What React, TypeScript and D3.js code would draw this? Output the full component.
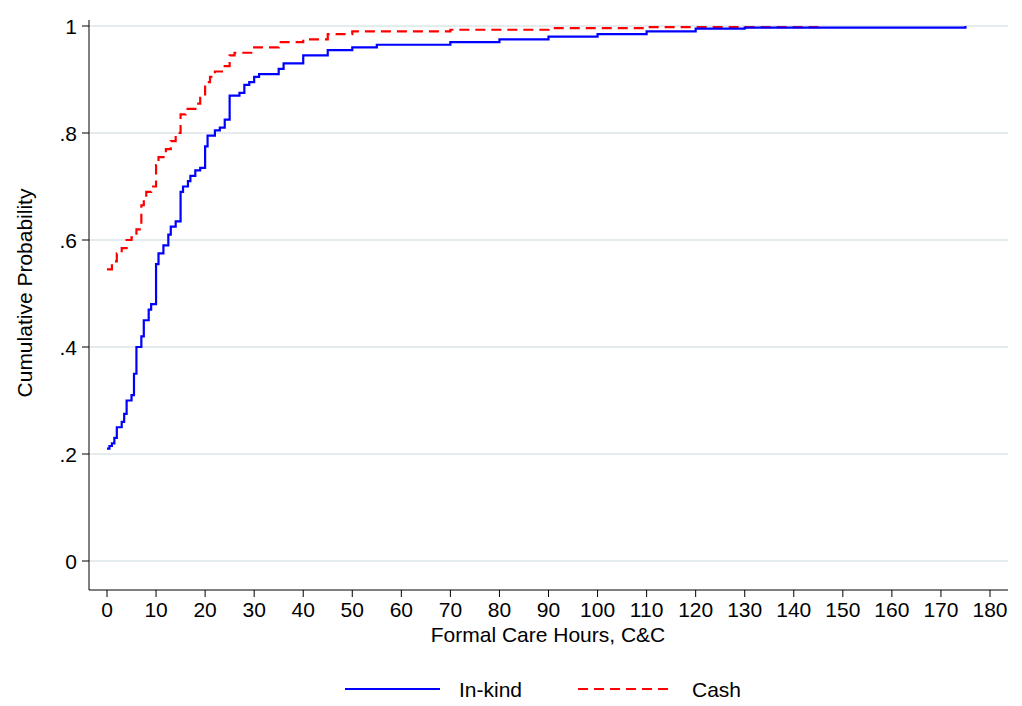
import React from "react";
import * as d3 from "d3";

const inkindH = [0,0.5,1,1.5,2,3,3.5,4,5,5.5,6,7,7.5,8.5,9,10,10.5,11.5,12.5,13,14,15,15.5,16.5,17,18,19,20,20.5,22,23,24,25,27,28,29,30,31,35,36,40,45,50,55,70,80,90,100,110,120,130,175];
const inkindP = [0.21,0.215,0.22,0.23,0.25,0.26,0.275,0.3,0.31,0.35,0.4,0.42,0.45,0.47,0.48,0.555,0.575,0.59,0.61,0.625,0.635,0.69,0.7,0.71,0.72,0.73,0.735,0.775,0.795,0.805,0.81,0.825,0.87,0.875,0.89,0.895,0.905,0.91,0.92,0.93,0.945,0.955,0.96,0.965,0.97,0.975,0.98,0.985,0.99,0.995,0.997,1.0];
const cashH = [0,1,2,3,4,5,6,7,7.5,8,9,10,10.5,12,13,14,15,16,18,19,20,21,22,24,25,26,30,35,40,45,50,70,90,110,145];
const cashP = [0.545,0.56,0.575,0.585,0.6,0.605,0.62,0.665,0.675,0.69,0.7,0.74,0.755,0.77,0.785,0.8,0.835,0.845,0.855,0.87,0.895,0.905,0.915,0.925,0.945,0.95,0.96,0.97,0.975,0.985,0.99,0.993,0.996,0.998,1.0];
const xTicks = d3.range(0, 181, 10);
const yTicks = [0, 0.2, 0.4, 0.6, 0.8, 1];
const yLabels = ["0", ".2", ".4", ".6", ".8", "1"];

export default function App() {
  const W = 1022, H = 706;
  const x = d3.scaleLinear().domain([0, 180]).range([107, 990]);
  const y = d3.scaleLinear().domain([0, 1]).range([561, 26]);
  const line = d3.line<[number, number]>().x(d => x(d[0])).y(d => y(d[1])).curve(d3.curveStepAfter);
  const blue = inkindH.map((h, i) => [h, inkindP[i]] as [number, number]);
  const red = cashH.map((h, i) => [h, cashP[i]] as [number, number]);
  const font = "'Liberation Sans', Arial, sans-serif";
  return (
    <svg width={W} height={H} style={{ position: "absolute", left: 0, top: 0, fontFamily: font }}>
      <rect width={W} height={H} fill="white" />
      {yTicks.map(t => (
        <line key={t} x1={89} x2={1008} y1={y(t)} y2={y(t)} stroke="#e4ecf0" strokeWidth={1.8} />
      ))}
      <line x1={89} x2={89} y1={20} y2={590} stroke="black" strokeWidth={1} />
      {yTicks.map((t, i) => (
        <g key={t}>
          <line x1={82} x2={89} y1={y(t)} y2={y(t)} stroke="black" />
          <text x={77} y={y(t) + 7.5} textAnchor="end" fontSize={21}>{yLabels[i]}</text>
        </g>
      ))}
      <line x1={89} x2={1008} y1={590} y2={590} stroke="black" strokeWidth={1} />
      {xTicks.map(t => (
        <g key={t}>
          <line x1={x(t)} x2={x(t)} y1={590} y2={597} stroke="black" />
          <text x={x(t)} y={617} textAnchor="middle" fontSize={21}>{t}</text>
        </g>
      ))}
      <text x={548} y={642} textAnchor="middle" fontSize={21}>Formal Care Hours, C&amp;C</text>
      <text transform="translate(32,293) rotate(-90)" textAnchor="middle" fontSize={21}>Cumulative Probability</text>
      <path d={line(red) ?? ""} fill="none" stroke="#ff0000" strokeWidth={2.2} strokeDasharray="10,6" />
      <path d={line(blue) ?? ""} fill="none" stroke="#0000ff" strokeWidth={2.2} />
      <line x1={345} x2={440} y1={689} y2={689} stroke="#0000ff" strokeWidth={2.2} />
      <text x={459} y={697} fontSize={21}>In-kind</text>
      <line x1={578} x2={673} y1={689} y2={689} stroke="#ff0000" strokeWidth={2.2} strokeDasharray="10,6" />
      <text x={692} y={697} fontSize={21}>Cash</text>
    </svg>
  );
}
